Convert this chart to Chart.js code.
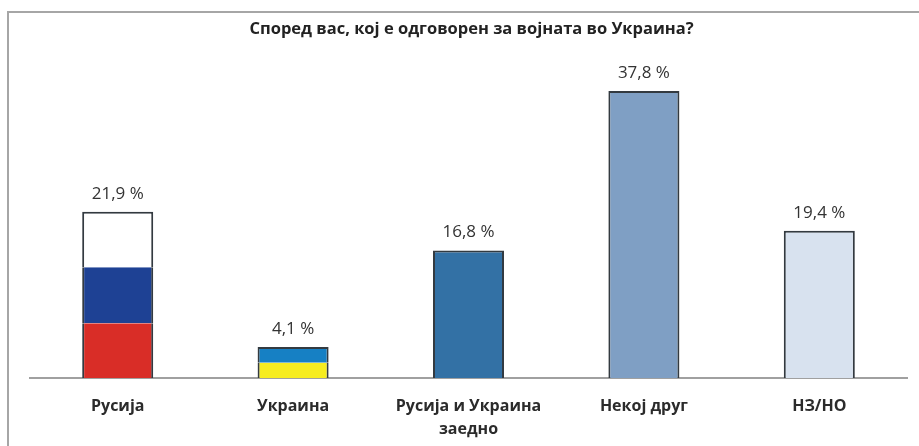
<!DOCTYPE html>
<html>
<head>
<meta charset="utf-8">
<script src="https://cdn.jsdelivr.net/npm/chart.js@4"></script>
<style>
html,body{margin:0;padding:0;background:#fff;overflow:hidden}
#frame{position:absolute;left:7px;top:11px;width:912px;height:435px;border-top:2px solid #a6a6a6;border-left:2px solid #a6a6a6;box-sizing:border-box}
canvas{position:absolute;left:0;top:0}
</style>
</head>
<body>
<div id="frame"></div>
<canvas id="c" width="919" height="446"></canvas>
<script>
const titleText = "Според вас, кој е одговорен за војната во Украина?";
const categories = ["Русија", "Украина", ["Русија и Украина", "заедно"], "Некој друг", "НЗ/НО"];
const totals = [21.9, 4.1, 16.8, 37.8, 19.4];
const band1 = [7.2, 2.0, 16.8, 37.8, 19.4];
const band2 = [7.4, 2.1, null, null, null];
const band3 = [7.3, null, null, null, null];
const band1Colors = ["#d92d27", "#f6ec1f", "#3371a5", "#7f9fc4", "#d8e2ef"];
const band2Colors = ["#1e4194", "#1680c4", "#fff", "#fff", "#fff"];
const band3Colors = ["#ffffff", "#fff", "#fff", "#fff", "#fff"];
const edge = "#333a40";

const allBands = [band1, band2, band3];
function borderFor(level) {
  return ctx => {
    const i = ctx.dataIndex;
    const isTop = !allBands.slice(level + 1).some(b => b[i] !== null);
    return { left: 2, right: 2, top: isTop ? 2 : 0, bottom: 0 };
  };
}

const valueLabels = {
  id: "valueLabels",
  afterLayout(chart) {
    const t = chart.titleBlock;
    t.left += 3; t.right += 3;
  },
  afterDatasetsDraw(chart) {
    const g = chart.ctx;
    const y = chart.scales.y;
    const metaX = chart.getDatasetMeta(0).data;
    g.save();
    g.font = "17px 'Open Sans'";
    g.fillStyle = "#333";
    g.textAlign = "center";
    g.textBaseline = "alphabetic";
    totals.forEach((v, i) => {
      const s = v.toFixed(1).replace(".", ",") + " %";
      g.fillText(s, metaX[i].x, y.getPixelForValue(v) - 13);
    });
    g.restore();
  }
};

function ds(data, colors, level) {
  return {
    data,
    backgroundColor: colors,
    borderColor: edge,
    borderWidth: borderFor(level),
    borderSkipped: false,
    barPercentage: 0.405,
    categoryPercentage: 1
  };
}

new Chart(document.getElementById("c"), {
  type: "bar",
  data: {
    labels: categories,
    datasets: [ds(band1, band1Colors, 0), ds(band2, band2Colors, 1), ds(band3, band3Colors, 2)]
  },
  plugins: [valueLabels],
  options: {
    responsive: false,
    animation: false,
    layout: { padding: { left: 30, right: 12, top: 0, bottom: 0 } },
    plugins: {
      legend: { display: false },
      tooltip: { enabled: false },
      title: {
        display: true,
        text: titleText,
        color: "#222",
        font: { family: "'Open Sans'", size: 16.5, weight: "bold" },
        padding: { top: 19, bottom: 35.6 }
      }
    },
    scales: {
      x: {
        stacked: true,
        afterFit(s) { s.height = 68; },
        grid: { display: false, drawTicks: false },
        border: { color: "#a0a0a0", width: 2 },
        ticks: {
          color: "#2b2b2b",
          font: { family: "'Open Sans'", size: 16, weight: "bold", lineHeight: 1.45 },
          padding: 17,
          maxRotation: 0,
          autoSkip: false
        }
      },
      y: { stacked: true, display: false, min: 0, max: 40 }
    }
  }
});
</script>
</body>
</html>
